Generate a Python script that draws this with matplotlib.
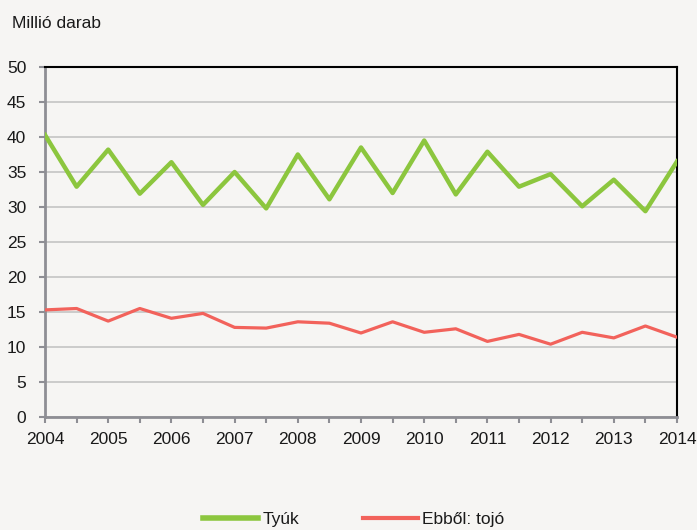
import matplotlib
matplotlib.use("Agg")
import matplotlib.pyplot as plt
import numpy as np

years = [2004, 2005, 2006, 2007, 2008, 2009, 2010, 2011, 2012, 2013, 2014]
x_pos = [2004 + 0.5 * i for i in range(21)]
tyuk = [40.3, 32.9, 38.2, 31.9, 36.4, 30.3, 35.0, 29.8, 37.5, 31.1, 38.5,
        32.0, 39.5, 31.8, 37.9, 32.9, 34.7, 30.1, 33.9, 29.4, 36.5]
tojo = [15.3, 15.5, 13.7, 15.5, 14.1, 14.8, 12.8, 12.7, 13.6, 13.4, 12.0,
        13.6, 12.1, 12.6, 10.8, 11.8, 10.4, 12.1, 11.3, 13.0, 11.4]
y_ticks = [0, 5, 10, 15, 20, 25, 30, 35, 40, 45, 50]

plt.rcParams['font.family'] = ['Liberation Sans', 'DejaVu Sans']

bg = '#f6f5f3'
fig = plt.figure(figsize=(6.97, 5.30), dpi=100, facecolor=bg)
ax = fig.add_axes([45/697, 1 - 417/530, (677-45)/697, (417-67)/530])
ax.set_facecolor(bg)

ax.plot(x_pos, tyuk, color='#8cc63e', lw=3.2, label='Tyúk', zorder=3)
ax.plot(x_pos, tojo, color='#f2625b', lw=2.3, label='Ebből: tojó', zorder=3)

ax.set_xlim(2004, 2014)
ax.set_ylim(0, 50)
ax.set_yticks(y_ticks)
ax.set_xticks(years)
ax.set_xticks(x_pos, minor=True)
ax.yaxis.grid(True, color='#c4c4c4', lw=1.2)
ax.set_axisbelow(True)

for s in ['left', 'bottom']:
    ax.spines[s].set_color('#8e8e94')
    ax.spines[s].set_linewidth(2)
for s in ['top', 'right']:
    ax.spines[s].set_color('black')
    ax.spines[s].set_linewidth(1.5)

ax.tick_params(axis='both', which='both', direction='out', color='#8e8e94', width=1.5,
               labelsize=12.5, colors='#8e8e94', labelcolor='#1a1a1a')
ax.tick_params(axis='x', which='both', length=4.5, pad=6)
ax.tick_params(axis='y', length=4.5, pad=9)

fig.text(12/697, 1 - 23/530, 'Millió darab', fontsize=12.5, va='center', ha='left', color='#1a1a1a')

leg = fig.legend(loc='center', bbox_to_anchor=(354/697, 1 - 519/530), ncol=2, frameon=False,
                 fontsize=12.5, handlelength=3.15, columnspacing=3.7, handletextpad=0.25)
for t in leg.get_texts():
    t.set_color('#1a1a1a')
leg.get_lines()[0].set_linewidth(4)
leg.get_lines()[1].set_linewidth(3)

fig.savefig('out.png', dpi=100, facecolor=bg)
